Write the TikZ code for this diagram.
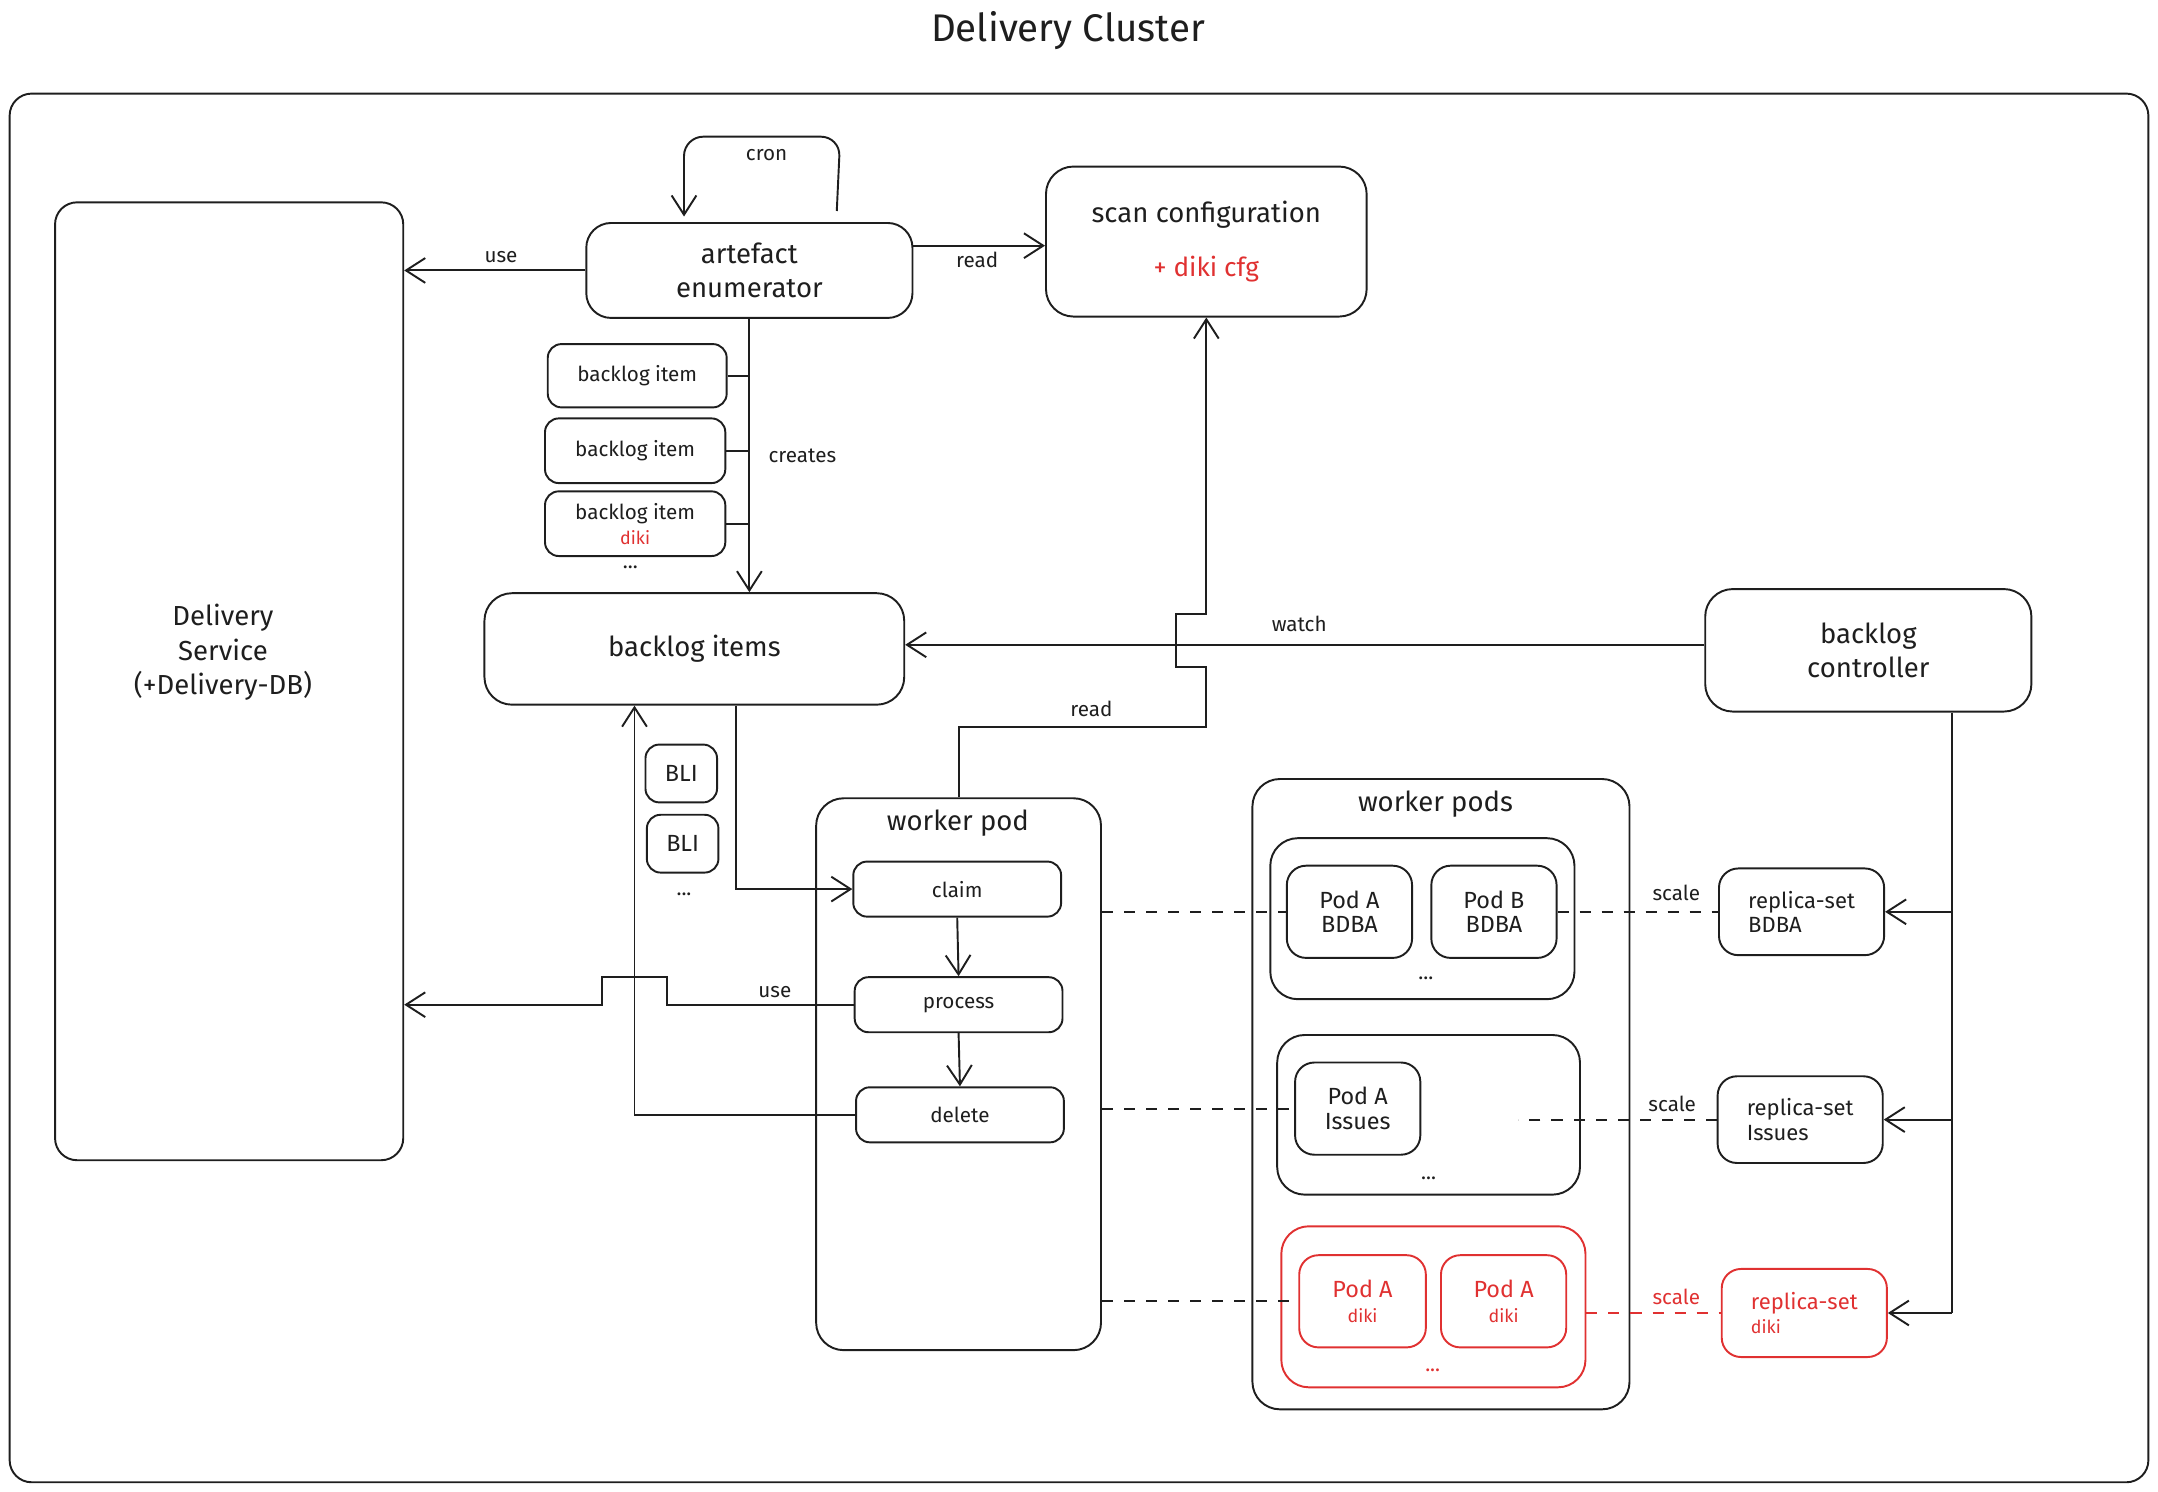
\documentclass[tikz,border=0pt]{standalone}
\usepackage{fontspec}
\setmainfont{Fira Sans}
\usetikzlibrary{calc,arrows.meta}
\definecolor{ink}{HTML}{1E1E1E}
\definecolor{exred}{HTML}{E03131}
\newcommand\dkf{\fontsize{6.5}{7}\selectfont}
\begin{document}
\begin{tikzpicture}[x=0.5pt,y=-0.5pt, line width=0.7pt, draw=ink, text=ink,
  box/.style={draw=ink, rounded corners=#1, inner sep=0pt, align=center},
  box/.default=8pt,
  wh/.style 2 args={minimum width=#1*0.5pt, minimum height=#2*0.5pt},
  mainf/.style={font=\fontsize{10}{12.5}\selectfont, align=center},
  smallf/.style={font=\fontsize{7.5}{9}\selectfont, align=center},
  podf/.style={font=\fontsize{8.5}{9}\selectfont, align=center},
  redbox/.style={draw=exred, text=exred},
  arr/.style={-{Straight Barb[length=7pt,width=9pt]}},
  dsh/.style={dash pattern=on 4pt off 4pt}
]
\useasboundingbox (0,0) rectangle (1568,1084);
% frame and title
\draw[rounded corners=8pt] (7,68) rectangle (1561,1077);
\node[font=\fontsize{14}{16}\selectfont] (title) at (776,22) {Delivery Cluster};

% Delivery service
\node[box=8pt, wh={253}{696}] (ds) at (166.5,495) {};
\node[mainf] (dst) at (162,474) {Delivery\\Service\\(+Delivery-DB)};

% artefact enumerator + scan configuration
\node[box=9pt, wh={237}{69}, mainf] (ae) at (544.5,196.5) {artefact\\enumerator};
\node[box=10pt, wh={233}{109}, mainf] (sc) at (876.5,175.5) {scan configuration\\[7pt]{\color{exred}\fontsize{9.5}{11}\selectfont + diki cfg}};

% backlog item boxes
\node[box=5pt, wh={130}{46}, smallf] (bi1) at (463,273) {backlog item};
\node[box=5pt, wh={131}{47}, smallf] (bi2) at (461.5,327.5) {backlog item};
\node[box=5pt, wh={131}{47}, smallf] (bi3) at (461.5,380.5) {backlog item\\{\color{exred}\dkf diki}};
\node[smallf] (bidots) at (458,412) {...};

% backlog items + controller
\node[box=10pt, wh={305}{81}, mainf] (bis) at (504.5,471.5) {backlog items};
\node[box=10pt, wh={237}{89}, mainf] (bc) at (1357.5,472.5) {backlog\\controller};

% BLI
\node[box=5pt, wh={52}{42}, podf] (bli1) at (495,562) {BLI};
\node[box=5pt, wh={52}{42}, podf] (bli2) at (496,613) {BLI};
\node[smallf] (blidots) at (497,650) {...};

% worker pod
\node[box=10pt, wh={207}{401}] (wp) at (696.5,780.5) {};
\node[mainf] (wpt) at (696,598) {worker pod};
\node[box=5pt, wh={151}{40}, smallf] (claim) at (695.5,646) {claim};
\node[box=5pt, wh={151}{40}, smallf] (process) at (696.5,730) {process};
\node[box=5pt, wh={151}{40}, smallf] (delete) at (697.5,810) {delete};

% worker pods
\node[box=10pt, wh={274}{458}] (wps) at (1047,795) {};
\node[mainf] (wpst) at (1043,584) {worker pods};
\node[box=10pt, wh={221}{117}] (g1) at (1033.5,667.5) {};
\node[box=7pt, wh={91}{67}, podf] (pAB) at (980.5,662.5) {Pod A\\BDBA};
\node[box=7pt, wh={91}{67}, podf] (pBB) at (1085.5,662.5) {Pod B\\BDBA};
\node[smallf] (g1dots) at (1036,711) {...};
\node[box=10pt, wh={220}{116}] (g2) at (1038,810) {};
\node[box=7pt, wh={91}{67}, podf] (pAI) at (986.5,805.5) {Pod A\\Issues};
\node[smallf] (g2dots) at (1038,856) {...};
\node[box=10pt, wh={221}{117}, redbox] (g3) at (1041.5,949.5) {};
\node[box=7pt, wh={92}{67}, podf, redbox] (pAD1) at (990,945.5) {Pod A\\{\dkf diki}};
\node[box=7pt, wh={91}{67}, podf, redbox] (pAD2) at (1092.5,945.5) {Pod A\\{\dkf diki}};
\node[smallf, text=exred] (g3dots) at (1041,996) {...};

% replica sets
\node[box=7pt, wh={120}{63}, font=\fontsize{8}{9}\selectfont, align=left] (rsB) at (1309,662.5) {replica-set\\BDBA};
\node[box=7pt, wh={120}{63}, font=\fontsize{8}{9}\selectfont, align=left] (rsI) at (1308,813.5) {replica-set\\Issues};
\node[box=7pt, wh={120}{64}, font=\fontsize{8}{9}\selectfont, align=left, redbox] (rsD) at (1311,954) {replica-set\\{\dkf diki}};

% ---- connectors ----
% cron loop
\draw[arr, rounded corners=7pt] ($(ae.north)+(63.5,-8)$) -- ($(ae.north)+(66,-62)$) -- ($(ae.north)+(-47.5,-62)$) -- ($(ae.north)+(-47.5,-4)$);
\node[smallf] (lcron) at (557,113) {cron};
% use (enumerator)
\draw[arr] (ae.west) -- (ae.west -| ds.east);
\node[smallf] (luse1) at (364,187) {use};
% read (enumerator -> scan cfg)
\draw[arr] ([yshift=9pt]ae.east) -- ([yshift=9pt]ae.east -| sc.west);
\node[smallf] (lread1) at (710,189) {read};
% creates
\draw[arr] (ae.south) -- (ae.south |- bis.north);
\foreach \b in {bi1,bi2,bi3} \draw (\b.east) -- (\b.east -| ae.south);
\node[smallf] (lcreates) at (583,331) {creates};
% watch
\draw[arr] ([yshift=2pt]bc.west) -- ([yshift=2pt]bc.west -| bis.east);
\node[smallf] (lwatch) at (944,453) {watch};
% read (worker pod -> scan cfg), with line jump
\draw[arr] (wp.north) -- ++(0,-51) -- ++(180,0) -- ++(0,-44) -- ++(-22,0) -- ++(0,-38) -- ++(22,0) -- (sc.south);
\node[smallf] (lread2) at (793,515) {read};
% backlog items -> claim
\draw[arr] ($(bis.south)+(30.5,0)$) |- (claim.west);
% delete -> backlog items
\draw[arr] (delete.west) -| ($(bis.south)+(-43.5,0)$);
% process use, with line jump
\draw[arr] (process.west) -- ++(-136,0) -- ++(0,-20) -- ++(-47,0) -- ++(0,20) -- (process.west -| ds.east);
\node[smallf] (luse2) at (563,721) {use};
% inner worker-pod flow
\draw[arr] (claim.south) -- (process.north);
\draw[arr] (process.south) -- (delete.north);
% dashed links worker pod -> pods
\draw[dsh] (pAB.west -| wp.east) -- (pAB.west);
\draw[dsh] (pAI.west -| wp.east) -- (pAI.west);
\draw[dsh] (pAD1.west -| wp.east) -- (pAD1.west);
% scale links
\draw[dsh] (pBB.east) -- (pBB.east -| rsB.west);
\node[smallf] (lscale1) at (1218,649) {scale};
\draw[dsh] (rsI.west) -- ++(-144,0);
\node[smallf] (lscale2) at (1215,802) {scale};
\draw[dsh, draw=exred] (rsD.west -| g3.east) -- (rsD.west);
\node[smallf, text=exred] (lscale3) at (1218,942) {scale};
% controller -> replica sets
\coordinate (ctl) at ($(bc.south)+(60.5,0)$);
\draw (ctl) -- (ctl |- rsD.east);
\draw[arr] (ctl |- rsB.east) -- (rsB.east);
\draw[arr] (ctl |- rsI.east) -- (rsI.east);
\draw[arr] (ctl |- rsD.east) -- (rsD.east);
\end{tikzpicture}
\end{document}
